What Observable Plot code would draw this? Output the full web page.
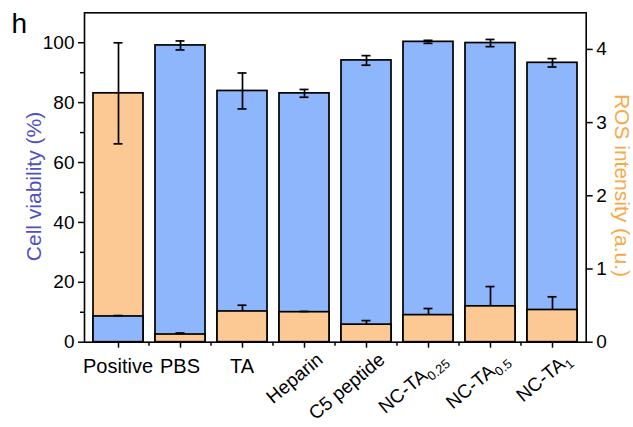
<!DOCTYPE html>
<html>
<head>
<meta charset="utf-8">
<script src="https://cdn.jsdelivr.net/npm/d3@7"></script>
<script src="https://cdn.jsdelivr.net/npm/@observablehq/plot@0.6"></script>
<style>
  body { margin: 0; background: #fff; }
</style>
</head>
<body>
<div id="chart"></div>
<script>
// Group names (base text + subscript) and measured values
const labelBase = ["Positive", "PBS", "TA", "Heparin", "C5 peptide", "NC-TA", "NC-TA", "NC-TA"];
const labelSub = ["", "", "", "", "", "0.25", "0.5", "1"];
const categories = labelBase.map((b, i) => b + labelSub[i]);

const viability = [8.6, 99.1, 83.9, 83.1, 94.1, 100.3, 99.9, 93.3];   // Cell viability (%)
const viabilitySD = [0.3, 1.5, 6.0, 1.3, 1.6, 0.5, 1.2, 1.4];
const ros = [3.40, 0.105, 0.42, 0.41, 0.24, 0.37, 0.49, 0.44];        // ROS intensity (a.u.)
const rosSD = [0.69, 0.02, 0.085, 0.01, 0.055, 0.09, 0.27, 0.18];

const viabilityTicks = [0, 20, 40, 60, 80, 100];
const viabilityMinor = [10, 30, 50, 70, 90];
const rosTicks = [0, 1, 2, 3, 4];
const viabilityMax = 110;
const rosMax = 4.5;
const horizontalLabels = 3; // first groups keep upright labels, the rest are slanted

const blue = "#8db6fc";
const orange = "#fcc894";

// ROS values are expressed on the left scale so both series share one y scale
const k = viabilityMax / rosMax;

const back = [], front = [];
categories.forEach((cat, i) => {
  const a = {cat, series: "viability", v: viability[i], e: viabilitySD[i]};
  const b = {cat, series: "ros", v: ros[i] * k, e: rosSD[i] * k};
  if (a.v >= b.v) { back.push(a); front.push(b); } else { back.push(b); front.push(a); }
});

const font = "Liberation Sans, Arial, Helvetica, sans-serif";
const lw = 1.7;
const capInset = 20.5;
const slant = -40;

// Short ticks at the boundaries between neighbouring groups
function boundaryTicks(index, scales) {
  const x = scales.x, y = scales.y;
  const step = x(categories[1]) - x(categories[0]);
  const bw = x.bandwidth ? x.bandwidth() : step * 0.8;
  const y0 = y(0);
  const g = d3.create("svg:g").attr("stroke", "black").attr("stroke-width", 1.5);
  for (let i = 0; i < categories.length - 1; i++) {
    const bx = x(categories[i]) + bw + (step - bw) / 2;
    g.append("line").attr("x1", bx).attr("x2", bx).attr("y1", y0).attr("y2", y0 + 4);
  }
  return g.node();
}

// Group labels under the axis: upright for the first few, slanted (with subscripts) for the rest
function groupLabels(index, scales) {
  const x = scales.x, y0 = scales.y(0);
  const step = x(categories[1]) - x(categories[0]);
  const bw = x.bandwidth ? x.bandwidth() : step * 0.8;
  const g = d3.create("svg:g")
    .attr("font-family", font).attr("fill", "black");
  categories.forEach((c, i) => {
    const cx = x(c) + bw / 2;
    if (i < horizontalLabels) {
      g.append("text")
        .attr("font-size", 20)
        .attr("x", cx).attr("y", y0 + 17).attr("dy", "0.71em")
        .attr("text-anchor", "middle")
        .text(labelBase[i]);
    } else {
      const t = g.append("text")
        .attr("font-size", 19)
        .attr("transform", `translate(${cx + 20},${y0 + 20}) rotate(${slant})`)
        .attr("text-anchor", "end");
      t.append("tspan").text(labelBase[i]);
      if (labelSub[i]) {
        t.append("tspan").attr("dy", "0.35em").attr("font-size", "0.68em").text(labelSub[i]);
      }
    }
  });
  return g.node();
}

const chart = Plot.plot({
  width: 633,
  height: 427,
  marginLeft: 84,
  marginRight: 47.3,
  marginTop: 12.3,
  marginBottom: 85.3,
  style: {fontFamily: font, background: "white", color: "black"},
  x: {domain: categories, paddingInner: 0.2, paddingOuter: 0.1},
  y: {domain: [0, viabilityMax]},
  color: {domain: ["viability", "ros"], range: [blue, orange]},
  marks: [
    // taller bar of each group with its full error bar
    Plot.barY(back, {x: "cat", y1: 0, y2: "v", fill: "series", stroke: "black", strokeWidth: lw}),
    Plot.ruleX(back, {x: "cat", y1: d => d.v - d.e, y2: d => d.v + d.e, stroke: "black", strokeWidth: lw}),
    Plot.tickY(back, {x: "cat", y: d => d.v + d.e, insetLeft: capInset, insetRight: capInset, stroke: "black", strokeWidth: lw}),
    Plot.tickY(back, {x: "cat", y: d => d.v - d.e, insetLeft: capInset, insetRight: capInset, stroke: "black", strokeWidth: lw}),
    // shorter bar drawn in front, upper error only
    Plot.barY(front, {x: "cat", y1: 0, y2: "v", fill: "series", stroke: "black", strokeWidth: lw}),
    Plot.ruleX(front, {x: "cat", y1: "v", y2: d => d.v + d.e, stroke: "black", strokeWidth: lw}),
    Plot.tickY(front, {x: "cat", y: d => d.v + d.e, insetLeft: capInset, insetRight: capInset, stroke: "black", strokeWidth: lw}),

    Plot.frame({stroke: "black", strokeWidth: 1.6}),

    // left axis: cell viability
    Plot.axisY(viabilityTicks, {anchor: "left", tickSize: 6, tickPadding: 4, fontSize: 19, strokeWidth: 1.5, label: null}),
    Plot.axisY(viabilityMinor, {anchor: "left", tickSize: 4, tickFormat: () => "", strokeWidth: 1.5, label: null}),
    // right axis: ROS intensity, mapped onto the shared scale
    Plot.axisY(rosTicks.map(t => t * k), {anchor: "right", tickSize: 6, tickPadding: 4, fontSize: 19, strokeWidth: 1.5, label: null,
      tickFormat: d => d3.format("~g")(+(d / k).toFixed(3))}),
    // bottom ticks
    Plot.axisX({tickSize: 6, tickFormat: () => "", strokeWidth: 1.5, label: null}),
    boundaryTicks,
    groupLabels,

    // axis titles
    Plot.text(["Cell viability (%)"], {frameAnchor: "left", textAnchor: "middle", rotate: -90, dx: -50, dy: 9, fontSize: 21, fill: "#5050c4"}),
    Plot.text(["ROS intensity (a.u.)"], {frameAnchor: "right", textAnchor: "middle", rotate: 90, dx: 36, dy: 8, fontSize: 21, fill: "#f8a845"}),

    // panel letter
    Plot.text(["h"], {frameAnchor: "top-left", textAnchor: "start", lineAnchor: "top", dx: -73, dy: 0, fontSize: 28})
  ]
});

document.getElementById("chart").appendChild(chart);
</script>
</body>
</html>
